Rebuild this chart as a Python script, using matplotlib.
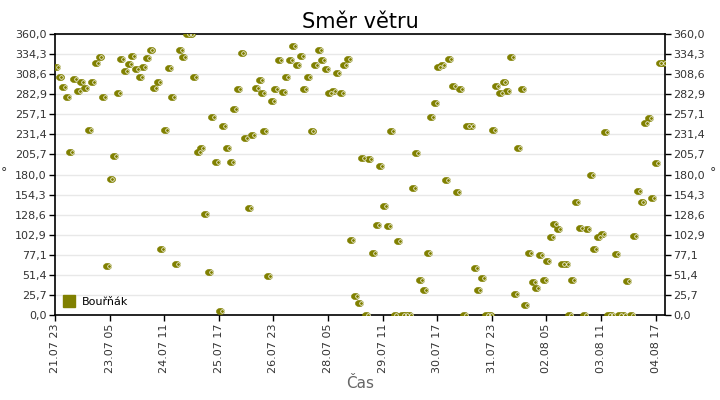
import numpy as np
import pandas as pd
import matplotlib
matplotlib.use("Agg")
import matplotlib.pyplot as plt
import matplotlib.dates as mdates
import matplotlib.transforms as mtransforms
from matplotlib.lines import Line2D
from matplotlib.path import Path

# hodiny od 21.07 23:00 a směr větru (°)
hours = [
    0.5, 2.5, 4.5, 6.5, 8.5, 10.5, 12.5, 14.5, 16.5, 18.5,
    20.5, 22.5, 24.5, 26.5, 28.5, 30.5, 32.5, 34.5, 36.5, 38.5,
    40.5, 42.5, 44.5, 46.5, 48.5, 50.5, 52.5, 54.5, 56.5, 58.5,
    60.5, 62.5, 64.5, 66.5, 68.5, 70.5, 72.5, 74.5, 76.5, 78.5,
    80.5, 82.5, 84.5, 86.5, 88.5, 90.5, 92.5, 94.5, 96.5, 98.5,
    100.5, 102.5, 104.5, 106.5, 108.5, 110.5, 112.5,
    113.8, 114.9, 117.2, 119.1, 120.9, 123.1, 125.1, 127.0, 129.1, 131.0,
    133.2, 135.0, 136.8, 139.2, 141.0, 143.1, 145.1, 146.7, 148.9, 150.8,
    153.0, 155.2, 157.0, 158.8, 161.0, 162.7, 165.0, 166.9, 168.7, 170.9,
    172.8, 175.0, 177.1, 178.8, 181.0, 183.2, 184.6, 186.6, 188.6, 190.6,
    192.6, 194.6, 196.6, 198.6, 200.8, 203.0, 204.8, 206.8, 209.0, 210.3,
    212.9, 215.0, 216.7, 218.7, 220.9, 222.7, 225.0, 226.5, 228.5, 231.0,
    232.6, 234.8, 236.8, 238.8, 240.9, 242.5, 244.4, 246.5, 248.4, 250.8,
    252.8, 254.6, 256.8, 258.5, 260.7, 262.9, 264.3, 266.7, 268.7, 270.6,
    272.6, 274.2, 276.6, 278.4, 280.6, 282.3, 284.2, 286.4, 288.4, 290.6,
    292.5, 294.7, 296.3, 298.2, 300.4, 302.4, 304.0, 305.8, 308.4, 310.0,
    312.3, 314.3, 316.5, 318.3, 320.5, 322.3, 324.4, 326.5, 328.2, 330.4,
    332.2, 334.2,
]
direction = [
    317.1, 304.3, 292.7, 279.9, 209.1, 302.1, 287.6, 299.1, 290.6, 237.4,
    298.3, 322.3, 330.0, 279.9, 62.6, 174.4, 204.0, 285.0, 327.4, 312.0,
    321.0, 331.3, 314.6, 304.3, 317.1, 329.6, 339.0, 290.2, 299.1, 84.4,
    237.4, 315.9, 279.9, 65.1, 339.0, 330.0, 360.0, 360.0, 304.3, 208.7,
    213.4, 129.4, 54.9, 254.1, 196.3, 4.7, 242.6, 214.3, 196.3, 264.4,
    290.1, 335.1, 227.1, 137.1, 231.0, 291.4, 301.7,
    285.0, 236.1, 49.7, 274.7, 290.1, 326.1, 286.3, 304.3, 326.1, 344.1,
    319.7, 331.3, 290.1, 304.3, 236.1, 319.7, 339.0, 326.1, 314.6, 285.0,
    287.6, 309.4, 285.0, 319.7, 327.4, 96.0, 24.0, 15.0, 201.4, 0.0,
    200.1, 79.3, 115.3, 191.1, 139.7, 114.0, 236.1, 0.0, 94.7, 0.0,
    0.0, 0.0, 162.9, 207.9, 44.6, 31.7, 79.3, 254.1, 272.1, 317.1,
    319.7, 173.1, 327.4, 294.0, 157.7, 290.1, 0.0, 242.6, 242.6, 60.0,
    31.7, 47.1, 0.0, 0.0, 237.4, 294.0, 285.0, 299.1, 287.6, 330.0,
    26.6, 214.3, 290.1, 12.4, 79.3, 42.0, 34.3, 76.7, 44.6, 69.0,
    99.9, 116.6, 110.1, 65.1, 65.1, 0.0, 44.6, 144.9, 111.4, 0.0,
    110.1, 179.6, 84.4, 99.9, 103.7, 234.9, 0.0, 0.0, 78.0, 0.0,
    0.0, 43.3, 0.0, 101.1, 159.0, 144.9, 246.0, 252.9, 150.0, 195.0,
    322.3, 322.3,
]

start = pd.Timestamp("2023-07-21 23:00")
end_hours = 335.2
tick_step_hours = 30
y_ticks = np.linspace(0, 360, 15)
y_labels = [f"{v:.1f}".replace(".", ",") for v in y_ticks]

olive = "#808000"
text_col = "#333333"

times = start + pd.to_timedelta(hours, unit="h")

# trochu široká elipsa jako značka
theta = np.linspace(0, 2 * np.pi, 41)
ellipse = Path(np.column_stack([np.cos(theta), 0.78 * np.sin(theta)]), closed=True)

fig = plt.figure(figsize=(7.2, 4.0), dpi=100)
ax = fig.add_axes([55 / 720, 1 - 315 / 400, 610 / 720, 281 / 400])

ax.plot(times, direction, linestyle="none", marker=ellipse, markersize=6.0,
        markerfacecolor=olive, markeredgecolor=olive, markeredgewidth=0.3,
        zorder=3)
ring = mtransforms.offset_copy(ax.transData, fig=fig, x=1.9, y=0, units="dots")
ax.plot(times, direction, linestyle="none", marker="o", markersize=2.6,
        markerfacecolor="none", markeredgecolor="white", markeredgewidth=0.5,
        transform=ring, zorder=4)

ax.set_xlim(start, start + pd.Timedelta(hours=end_hours))
ax.set_ylim(0, 360)
ax.set_yticks(y_ticks)
ax.set_yticklabels(y_labels)
ax.tick_params(axis="y", which="both", left=True, right=True,
               labelleft=True, labelright=True, direction="out",
               length=4, width=1, labelsize=8, labelcolor=text_col, pad=2)

x_ticks = pd.date_range(start, start + pd.Timedelta(hours=end_hours),
                        freq=f"{tick_step_hours}h")
ax.set_xticks(x_ticks)
ax.xaxis.set_major_formatter(mdates.DateFormatter("%d.%m %H"))
ax.tick_params(axis="x", direction="out", length=4, width=1, labelsize=8,
               labelcolor=text_col, labelrotation=90, pad=2)

ax.grid(axis="y", color="#e8e8e8", linewidth=1)
ax.set_axisbelow(True)
for s in ax.spines.values():
    s.set_color("black")
    s.set_linewidth(1.2)

ax.set_title("Směr větru", fontsize=15, color="black", pad=4)
fig.text(360 / 720, 1 - 383 / 400, "Čas", ha="center", va="center",
         fontsize=11, color="#666666")
fig.text(4 / 720, 1 - 173 / 400, "°", ha="center", va="center",
         fontsize=9, color=text_col)
fig.text(713 / 720, 1 - 173 / 400, "°", ha="center", va="center",
         fontsize=9, color=text_col)

handle = Line2D([], [], linestyle="none", marker="s", markersize=8,
                markerfacecolor=olive, markeredgecolor=olive)
ax.legend([handle], ["Bouřňák"], loc="lower left", frameon=False,
          fontsize=8, handletextpad=0.5, borderaxespad=0.3,
          handlelength=1.2, labelcolor="black")

fig.savefig("out.png", dpi=100)
